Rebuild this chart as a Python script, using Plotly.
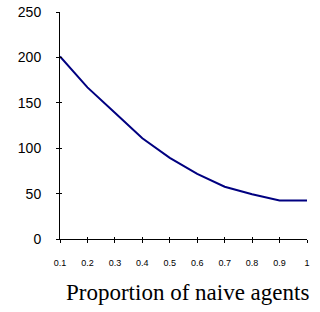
import plotly.graph_objects as go

proportion = [0.1, 0.2, 0.3, 0.4, 0.5, 0.6, 0.7, 0.8, 0.9, 1.0]
values = [201, 167, 139, 111, 89.4, 71.8, 57.6, 49.2, 42.4, 42.4]
x_tick_labels = ["0.1", "0.2", "0.3", "0.4", "0.5", "0.6", "0.7", "0.8", "0.9", "1"]
y_ticks = [0, 50, 100, 150, 200, 250]

fig = go.Figure()
fig.add_trace(go.Scatter(x=proportion, y=values, mode="lines",
                         line=dict(color="#000080", width=2), showlegend=False))
# invisible trace on overlay axes for inner tick halves
fig.add_trace(go.Scatter(x=proportion, y=values, mode="lines", xaxis="x2", yaxis="y2",
                         line=dict(color="rgba(0,0,0,0)", width=0), showlegend=False, hoverinfo="skip"))

fig.update_layout(
    width=320, height=312,
    margin=dict(l=60, r=13, t=12, b=73, autoexpand=False),
    paper_bgcolor="white", plot_bgcolor="white",
    font=dict(family="Liberation Sans, Arial", color="black"),
    xaxis=dict(range=[0.1, 1.0], tickvals=proportion, ticktext=x_tick_labels, automargin=False,
               showgrid=False, zeroline=False, showline=True, linecolor="black", linewidth=1,
               ticks="outside", ticklen=3, tickcolor="black", tickfont=dict(size=9),
               ticklabelstandoff=12),
    yaxis=dict(range=[0, 250], tickvals=y_ticks, automargin=False,
               showgrid=False, zeroline=False, showline=True, linecolor="black", linewidth=1,
               ticks="outside", ticklen=3, tickcolor="black", tickfont=dict(size=14),
               ticklabelstandoff=12),
    xaxis2=dict(range=[0.1, 1.0], tickvals=proportion, overlaying="x", showticklabels=False,
                automargin=False, showgrid=False, zeroline=False, showline=False,
                ticks="inside", ticklen=2, tickcolor="black"),
    yaxis2=dict(range=[0, 250], tickvals=y_ticks, overlaying="y", showticklabels=False,
                automargin=False, showgrid=False, zeroline=False, showline=False,
                ticks="inside", ticklen=2, tickcolor="black"),
    annotations=[dict(text="Proportion of naive agents", xref="paper", yref="paper",
                      x=0.518, y=-0.235, xanchor="center", yanchor="middle", showarrow=False,
                      font=dict(family="Liberation Serif, Times New Roman", size=23, color="black"))],
)

fig.write_html("out.html", config={"displayModeBar": False},
               post_script="document.body.style.margin='0';document.body.style.overflow='hidden';")
